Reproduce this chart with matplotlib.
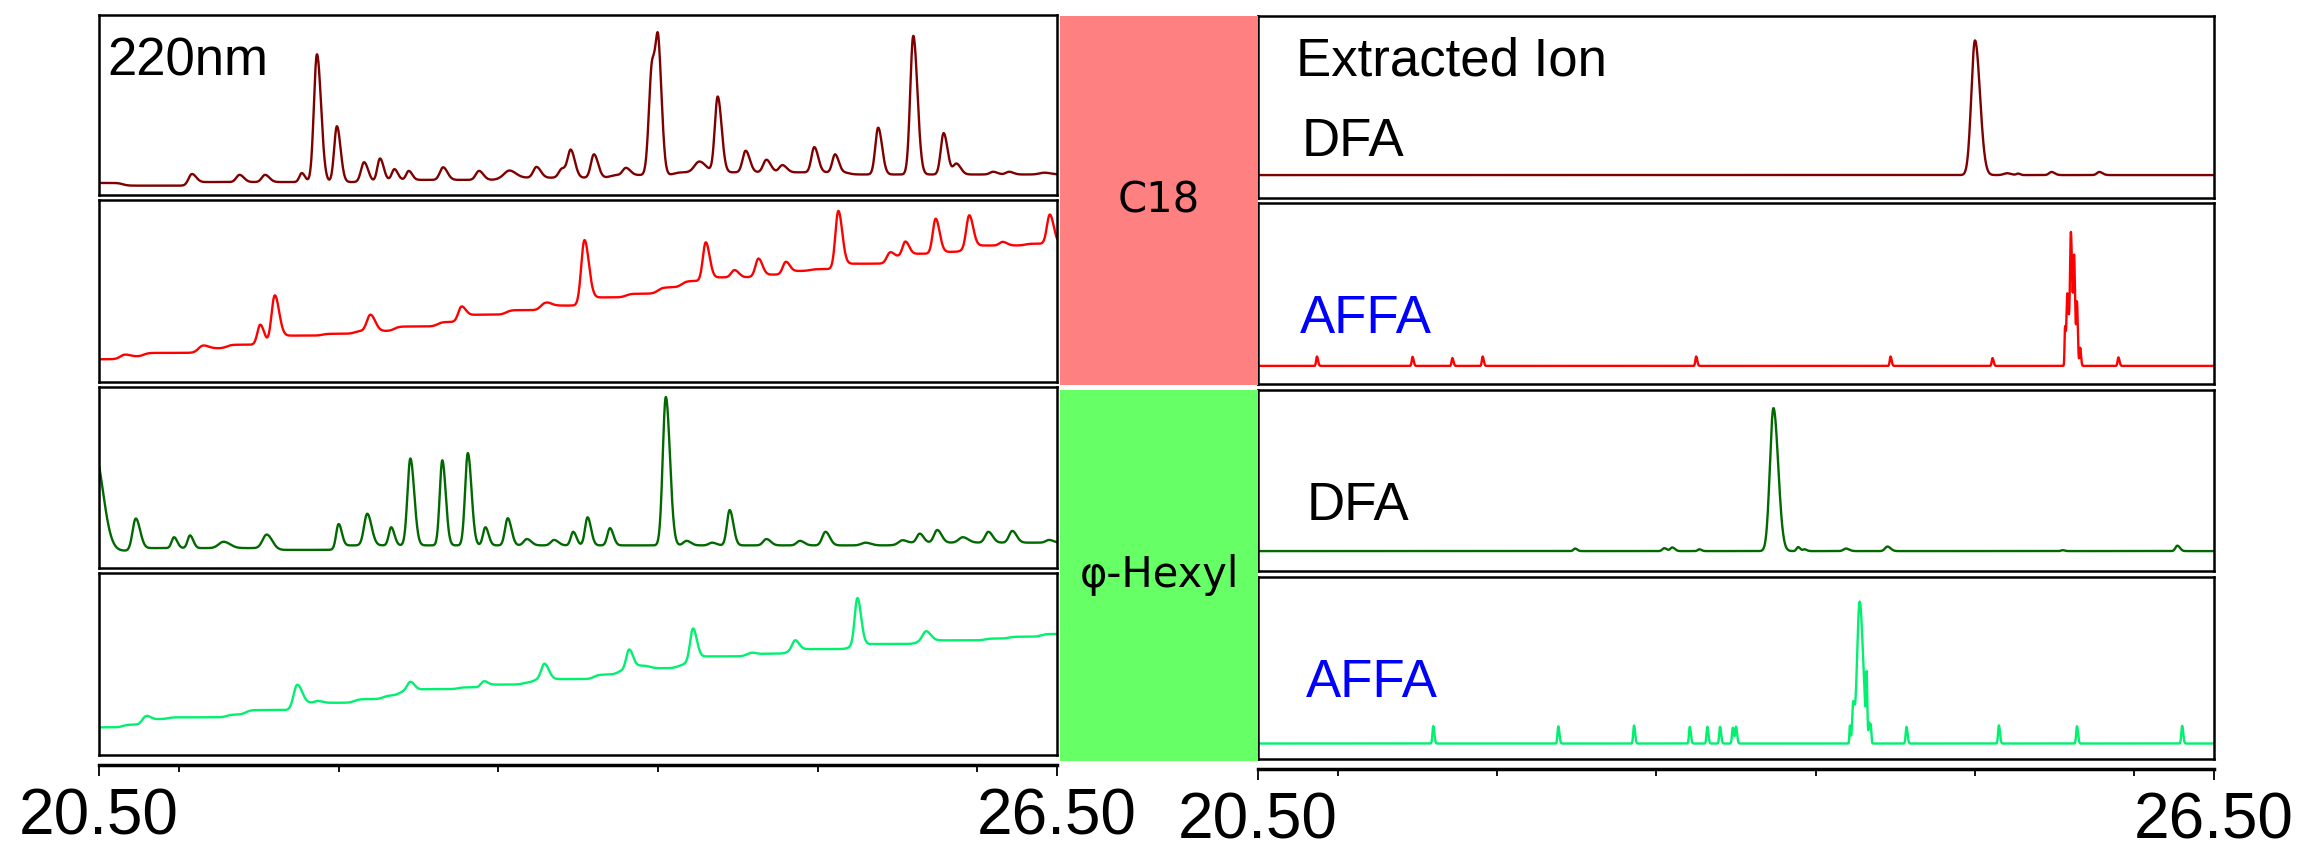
"""Chromatogram overlay: UV 220 nm vs extracted ion, C18 and phenyl-hexyl columns, DFA vs AFFA."""

import matplotlib

matplotlib.use("Agg")
import matplotlib.pyplot as plt
import numpy as np

W, H = 2300, 848
T_START, T_END = 20.5, 26.5
STEP_WIDTH = 0.03  # width of the tanh used for baseline drift steps (min)

# Each trace: starting baseline level, baseline steps (time, rise),
# peaks (retention time, height above baseline, sigma). Signal in % of panel.

# --- 220 nm UV traces -----------------------------------------------------
UV_C18_DFA_START = 6.7
UV_C18_DFA_STEPS = [(20.65, -1.5), (21.1, 2.0), (22.3, 1.2), (23.0, 1.2),
                    (23.7, 1.5), (24.1, 1.5), (25.2, -1.2)]
UV_C18_DFA_PEAKS = [
    (21.08, 6, 0.02), (21.38, 4, 0.02), (21.54, 4, 0.02), (21.77, 5, 0.015),
    (21.865, 71, 0.019), (21.99, 31, 0.017), (22.16, 11, 0.019),
    (22.26, 13, 0.017), (22.35, 6, 0.016), (22.44, 5, 0.016),
    (22.655, 7, 0.02), (22.88, 5, 0.02), (23.07, 4, 0.03), (23.24, 6, 0.02),
    (23.40, 5, 0.02), (23.455, 15, 0.019), (23.60, 13, 0.019),
    (23.80, 4, 0.02), (23.965, 62, 0.02), (24.005, 55, 0.016),
    (24.26, 6, 0.03), (24.375, 42, 0.018), (24.55, 12, 0.019),
    (24.68, 7, 0.02), (24.78, 4, 0.02), (24.98, 14, 0.018),
    (25.11, 10, 0.017), (25.38, 26, 0.018), (25.60, 77, 0.019),
    (25.79, 23, 0.018), (25.87, 6, 0.02), (26.10, 1.5, 0.02),
    (26.20, 1.5, 0.02), (26.42, 1, 0.03),
]

UV_C18_AFFA_START = 12.5
UV_C18_AFFA_STEPS = [
    (20.63, 1.5), (20.78, 2.0), (21.12, 2.5), (21.3, 2.0), (21.62, 5.0),
    (21.9, 1.0), (22.1, 1.5), (22.35, 2.5), (22.62, 2.5), (22.8, 4.0),
    (23.05, 2.5), (23.3, 2.5), (23.56, 4.5), (23.8, 2.0), (24.0, 3.5),
    (24.15, 3.5), (24.33, 2.0), (24.6, 1.5), (24.8, 2.0), (24.95, 1.0),
    (25.12, 3.0), (25.45, 4.0), (25.58, 1.5), (25.76, 1.0), (25.92, 3.5),
    (26.3, 1.0),
]
UV_C18_AFFA_PEAKS = [
    (20.66, 1.2, 0.025), (21.15, 1.8, 0.025), (21.51, 11, 0.018),
    (21.60, 26, 0.02), (22.20, 9, 0.022), (22.77, 8, 0.02),
    (23.29, 3, 0.025), (23.54, 35, 0.02), (24.30, 21, 0.018),
    (24.48, 4, 0.02), (24.63, 9, 0.018), (24.80, 6, 0.018),
    (25.13, 30, 0.018), (25.45, 4, 0.018), (25.55, 8, 0.018),
    (25.74, 19, 0.018), (25.95, 17, 0.018), (26.16, 2, 0.02),
    (26.455, 16, 0.018),
]

UV_HEX_DFA_START = 9.5
UV_HEX_DFA_STEPS = [(20.75, 1.5), (21.6, -1.0), (22.0, 2.5), (25.5, 1.5)]
UV_HEX_DFA_PEAKS = [
    (20.47, 55, 0.04), (20.73, 17.5, 0.02), (20.97, 6, 0.015),
    (21.07, 7, 0.015), (21.28, 3.5, 0.03), (21.55, 7.5, 0.025),
    (22.0, 13, 0.015), (22.18, 17.5, 0.02), (22.33, 10, 0.015),
    (22.45, 48, 0.018), (22.65, 47, 0.016), (22.81, 51, 0.017),
    (22.92, 10, 0.015), (23.06, 15, 0.017), (23.18, 3.5, 0.02),
    (23.35, 3, 0.02), (23.47, 7.5, 0.015), (23.56, 15.5, 0.016),
    (23.70, 9.5, 0.016), (24.05, 82, 0.019), (24.18, 2.5, 0.02),
    (24.34, 1.5, 0.02), (24.45, 19.5, 0.017), (24.68, 3.5, 0.02),
    (24.89, 2.5, 0.02), (25.05, 7.5, 0.02), (25.30, 1.5, 0.025),
    (25.53, 1.5, 0.02), (25.64, 5, 0.018), (25.75, 7, 0.02),
    (25.91, 3, 0.025), (26.07, 6, 0.02), (26.22, 6.5, 0.02),
    (26.45, 1.5, 0.02),
]

UV_HEX_AFFA_START = 15.2
UV_HEX_AFFA_STEPS = [
    (20.65, 1.5), (20.8, 3.0), (20.93, 1.0), (21.3, 1.5), (21.42, 2.5),
    (21.76, 4.0), (22.1, 2.0), (22.28, 2.0), (22.38, 2.5), (22.5, 1.0),
    (22.75, 1.0), (22.93, 1.5), (23.15, 1.0), (23.22, 2.0), (23.6, 2.5),
    (23.75, 2.5), (23.85, 2.5), (23.95, -1.5), (24.12, 1.5), (24.17, 2.0),
    (24.25, 3.0), (24.65, 1.5), (24.82, 2.5), (25.2, 2.0), (25.28, 0.8),
    (25.62, 1.5), (25.72, 0.5), (26.05, 1.0), (26.2, 1.0), (26.4, 1.5),
]
UV_HEX_AFFA_PEAKS = [
    (20.79, 3.5, 0.02), (21.74, 13, 0.022), (21.87, 1.0, 0.02),
    (22.45, 5, 0.02), (22.91, 3, 0.018), (23.29, 8.5, 0.02),
    (23.82, 11, 0.018), (24.22, 18, 0.018), (24.59, 2.0, 0.03),
    (24.86, 5, 0.018), (25.25, 26, 0.017), (25.68, 5.5, 0.022),
]

# --- extracted ion traces -------------------------------------------------
EIC_C18_DFA_START = 12.6
EIC_C18_DFA_PEAKS = [
    (25.0, 74, 0.023), (25.2, 1.0, 0.02), (25.27, 0.8, 0.01),
    (25.48, 1.7, 0.015), (25.78, 1.7, 0.015),
]

EIC_C18_AFFA_START = 10.0
EIC_C18_AFFA_PEAKS = [
    (20.87, 5.2, 0.005), (21.47, 5.0, 0.005), (21.72, 4.3, 0.005),
    (21.91, 5.2, 0.005), (23.25, 5.2, 0.005), (24.47, 5.2, 0.005),
    (25.11, 4.3, 0.005), (25.565, 20, 0.003), (25.58, 40, 0.006),
    (25.602, 73, 0.006), (25.622, 58, 0.005), (25.64, 34, 0.004),
    (25.66, 10, 0.004), (25.9, 4.7, 0.005),
]

EIC_HEX_DFA_START = 11.0
EIC_HEX_DFA_PEAKS = [
    (22.49, 1.4, 0.01), (23.05, 1.6, 0.012), (23.10, 2.0, 0.012),
    (23.27, 1.0, 0.01), (23.735, 79, 0.022), (23.89, 2.2, 0.01),
    (23.93, 1.0, 0.01), (24.19, 1.4, 0.015), (24.45, 2.5, 0.015),
    (25.55, 0.5, 0.01), (26.27, 3.0, 0.012),
]

EIC_HEX_AFFA_START = 8.5
EIC_HEX_AFFA_PEAKS = [
    (21.6, 9.6, 0.005), (22.385, 9.5, 0.005), (22.86, 9.9, 0.005),
    (23.21, 9.2, 0.005), (23.32, 9.2, 0.005), (23.40, 9.2, 0.005),
    (23.48, 8.7, 0.005), (23.50, 9.2, 0.005), (24.215, 10, 0.003),
    (24.235, 20, 0.006), (24.276, 78, 0.016), (24.32, 30, 0.003),
    (24.335, 10, 0.003), (24.345, 10, 0.003), (24.57, 9.2, 0.005),
    (25.15, 10, 0.005), (25.64, 9.5, 0.005), (26.30, 9.7, 0.005),
]

DARK_RED, RED = "#7f0000", "#ff0000"
DARK_GREEN, GREEN = "#006a00", "#00f070"

LEFT_TRACES = [
    (UV_C18_DFA_START, UV_C18_DFA_STEPS, UV_C18_DFA_PEAKS, DARK_RED),
    (UV_C18_AFFA_START, UV_C18_AFFA_STEPS, UV_C18_AFFA_PEAKS, RED),
    (UV_HEX_DFA_START, UV_HEX_DFA_STEPS, UV_HEX_DFA_PEAKS, DARK_GREEN),
    (UV_HEX_AFFA_START, UV_HEX_AFFA_STEPS, UV_HEX_AFFA_PEAKS, GREEN),
]
RIGHT_TRACES = [
    (EIC_C18_DFA_START, [], EIC_C18_DFA_PEAKS, DARK_RED),
    (EIC_C18_AFFA_START, [], EIC_C18_AFFA_PEAKS, RED),
    (EIC_HEX_DFA_START, [], EIC_HEX_DFA_PEAKS, DARK_GREEN),
    (EIC_HEX_AFFA_START, [], EIC_HEX_AFFA_PEAKS, GREEN),
]
RIGHT_LABELS = [("DFA", "black"), ("AFFA", "blue"), ("DFA", "black"), ("AFFA", "blue")]
COLUMNS = ["C18", "φ-Hexyl"]
TICK_LABELS = ["20.50", "26.50"]


def chromatogram(t, start, steps, peaks, tail=1.35):
    y = np.full_like(t, start)
    for ts, rise in steps:
        y += rise * 0.5 * (1 + np.tanh((t - ts) / STEP_WIDTH))
    for tp, h, s in peaks:
        sig = np.where(t < tp, s, s * tail)
        y += h * np.exp(-0.5 * ((t - tp) / sig) ** 2)
    return y


def box(x0, y0, x1, y1):
    # pixel box (top-left origin) -> figure fraction rect
    return [x0 / W, 1 - y1 / H, (x1 - x0) / W, (y1 - y0) / H]


def fig_xy(x, y):
    return x / W, 1 - y / H


fig = plt.figure(figsize=(W / 100, H / 100), dpi=100)
t = np.linspace(T_START, T_END, 3001)

left_rows = [(15, 195), (200, 382), (387, 568), (573, 755)]
right_rows = [(16, 198), (203, 384), (390, 571), (577, 759)]

for (x0, x1), rows, traces in [((99, 1057), left_rows, LEFT_TRACES),
                               ((1258, 2214), right_rows, RIGHT_TRACES)]:
    for (y0, y1), (start, steps, peaks, color) in zip(rows, traces):
        ax = fig.add_axes(box(x0, y0, x1, y1))
        ax.plot(t, chromatogram(t, start, steps, peaks), color=color, lw=1.7)
        ax.set_xlim(T_START, T_END)
        ax.set_ylim(0, 100)
        ax.set_xticks([])
        ax.set_yticks([])
        for sp in ax.spines.values():
            sp.set_linewidth(1.8)
            sp.set_color("black")

# shared retention-time axes under each stack
for x0, x1, y in [(99, 1057, 764), (1258, 2214, 768)]:
    tax = fig.add_axes(box(x0, y, x1, y + 1))
    tax.set_xlim(T_START, T_END)
    tax.set_yticks([])
    for side in ("top", "left", "right"):
        tax.spines[side].set_visible(False)
    tax.spines["bottom"].set_linewidth(2.5)
    tax.set_xticks([T_START, T_END])
    tax.set_xticklabels(TICK_LABELS)
    tax.set_xticks(np.arange(21, 27), minor=True)
    tax.tick_params(axis="x", which="major", direction="out", length=8,
                    width=1.3, pad=8, labelsize=46)
    tax.tick_params(axis="x", which="minor", direction="out", length=5,
                    width=1.3)
    for lab in tax.get_xticklabels():
        lab.set_fontfamily("Liberation Sans")

# column boxes between the two stacks
for (y0, y1), name, fc in [((16, 385), COLUMNS[0], "#ff8080"),
                           ((390, 761), COLUMNS[1], "#66ff66")]:
    cax = fig.add_axes(box(1060, y0, 1258, y1))
    cax.set_facecolor(fc)
    cax.set_xticks([])
    cax.set_yticks([])
    for sp in cax.spines.values():
        sp.set_visible(False)
    cax.text(0.5, 0.5, name, transform=cax.transAxes, ha="center",
             va="center", fontsize=30, family="DejaVu Sans", color="black")

txt = dict(family="Liberation Sans", va="baseline", ha="left")
fig.text(*fig_xy(107, 75), "220nm", fontsize=38, color="black", **txt)
fig.text(*fig_xy(1296, 75), "Extracted Ion", fontsize=38, color="black", **txt)
for (x, y), (label, color) in zip([(1302, 156), (1300, 333), (1307, 520), (1306, 697)],
                                  RIGHT_LABELS):
    fig.text(*fig_xy(x, y), label, fontsize=38, color=color, **txt)

fig.savefig("out.png", dpi=100, facecolor="white")
